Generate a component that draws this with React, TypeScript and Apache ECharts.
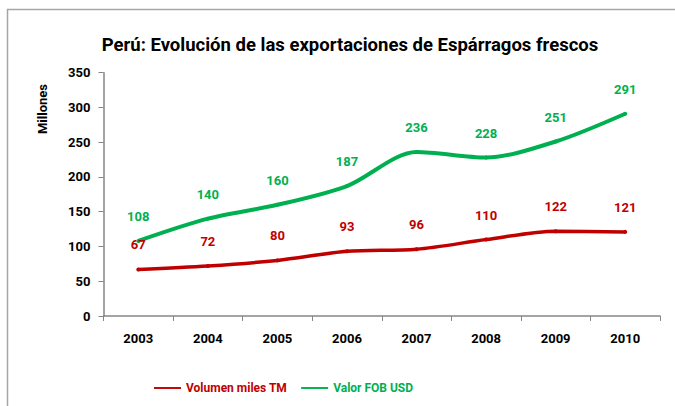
import React, { useEffect, useRef } from "react";
import * as echarts from "echarts";

const years = ["2003", "2004", "2005", "2006", "2007", "2008", "2009", "2010"];
const volumen = [67, 72, 80, 93, 96, 110, 122, 121];
const valorFob = [108, 140, 160, 187, 236, 228, 251, 291];
const yTicks = { min: 0, max: 350, interval: 50 };

const RED = "#C00000";
const GREEN = "#00B050";
const FONT = "'Liberation Sans Narrow', 'Roboto', sans-serif";

export default function App() {
  const ref = useRef<HTMLDivElement>(null);
  useEffect(() => {
    if (!ref.current) return;
    const chart = echarts.init(ref.current, undefined, { renderer: "svg" });
    chart.setOption({
      animation: false,
      backgroundColor: "#ffffff",
      textStyle: { fontFamily: FONT },
      title: {
        text: "Perú: Evolución de las exportaciones de Espárragos frescos",
        left: 345,
        textAlign: "center",
        top: 30,
        textStyle: { fontSize: 18.5, fontWeight: "bold", color: "#000", fontFamily: FONT },
      },
      graphic: [
        {
          type: "rect",
          shape: { x: 7.5, y: 9.5, width: 720, height: 430 },
          style: { fill: "none", stroke: "#A6A6A6", lineWidth: 1.5 },
          silent: true,
        },
        {
          type: "text",
          x: 42,
          y: 109,
          rotation: Math.PI / 2,
          style: {
            text: "Millones",
            fontSize: 13,
            fontWeight: "bold",
            fontFamily: FONT,
            fill: "#000",
            textAlign: "center",
            textVerticalAlign: "middle",
          },
        },
      ],
      legend: {
        left: 149,
        top: 377,
        itemWidth: 27,
        itemHeight: 14,
        itemGap: 14,
        icon: "path://M0,6 L28,6 L28,8 L0,8 Z",
        textStyle: { fontSize: 12, fontWeight: "bold", fontFamily: FONT },
        data: [
          { name: "Volumen miles TM", textStyle: { color: RED } },
          { name: "Valor FOB USD", textStyle: { color: GREEN } },
        ],
      },
      grid: { left: 103.5, right: 15, top: 72.7, bottom: 90, containLabel: false },
      xAxis: {
        type: "category",
        data: years,
        boundaryGap: true,
        axisLine: { lineStyle: { color: "#868686", width: 1.5 } },
        axisTick: { show: true, length: 5, lineStyle: { color: "#868686" } },
        axisLabel: { margin: 16, fontSize: 13, fontWeight: "bold", color: "#000", fontFamily: FONT },
      },
      yAxis: {
        type: "value",
        min: yTicks.min,
        max: yTicks.max,
        interval: yTicks.interval,
        splitLine: { show: false },
        axisLine: { show: true, lineStyle: { color: "#868686", width: 1.5 } },
        axisTick: { show: true, length: 5, lineStyle: { color: "#868686" } },
        axisLabel: { margin: 13, fontSize: 13, fontWeight: "bold", color: "#000", fontFamily: FONT },
      },
      series: [
        {
          name: "Volumen miles TM",
          type: "line",
          data: volumen,
          smooth: 0.3,
          symbol: "circle",
          symbolSize: 4,
          itemStyle: { color: RED },
          lineStyle: { color: RED, width: 3.5 },
          label: {
            show: true,
            position: "top",
            distance: 16,
            color: RED,
            fontSize: 13,
            fontWeight: "bold",
            fontFamily: FONT,
          },
        },
        {
          name: "Valor FOB USD",
          type: "line",
          data: valorFob,
          smooth: 0.3,
          symbol: "circle",
          symbolSize: 4,
          itemStyle: { color: GREEN },
          lineStyle: { color: GREEN, width: 4 },
          label: {
            show: true,
            position: "top",
            distance: 16,
            color: GREEN,
            fontSize: 13,
            fontWeight: "bold",
            fontFamily: FONT,
          },
        },
      ],
    });
    return () => chart.dispose();
  }, []);
  return (
    <div
      ref={ref}
      style={{ position: "fixed", left: 0, top: 0, width: 675, height: 406 }}
    />
  );
}
